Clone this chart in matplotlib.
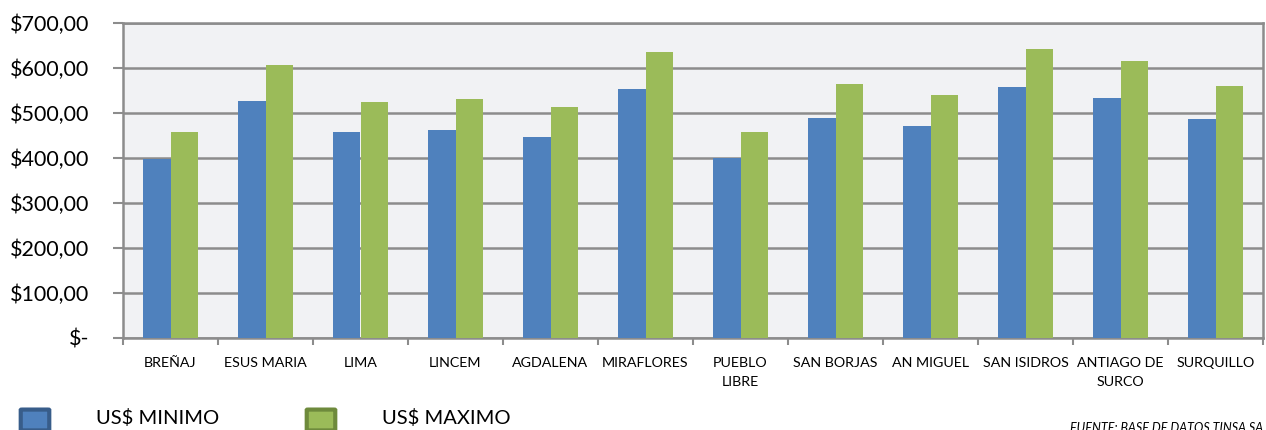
import matplotlib.pyplot as plt
from matplotlib.patches import FancyBboxPatch
import numpy as np

plt.rcParams['font.family'] = ['Lato', 'DejaVu Sans']

distritos = ['BREÑAJ', 'ESUS MARIA', 'LIMA', 'LINCEM', 'AGDALENA', 'MIRAFLORES',
             'PUEBLO\nLIBRE', 'SAN BORJAS', 'AN MIGUEL', 'SAN ISIDROS',
             'ANTIAGO DE\nSURCO', 'SURQUILLO']
minimo = [396, 526, 456, 461, 445, 552, 399, 489, 470, 556, 533, 486]
maximo = [456, 605, 524, 530, 513, 635, 458, 563, 540, 641, 614, 559]
yticks = [0, 100, 200, 300, 400, 500, 600, 700]
ylabels = ['$-', '$100,00', '$200,00', '$300,00', '$400,00', '$500,00', '$600,00', '$700,00']

blue = '#4F81BD'
green = '#9BBB59'
grid = '#8C8C8C'

fig = plt.figure(figsize=(12.66, 4.30), dpi=100)
ax = fig.add_axes([123 / 1266, 1 - 337.7 / 430, 1140 / 1266, 315 / 430])
ax.set_facecolor('#F1F2F4')

x = np.arange(len(distritos))
w = 0.285
ax.bar(x - w / 2, minimo, w, color=blue, zorder=3)
ax.bar(x + w / 2, maximo, w, color=green, zorder=3)

ax.set_xlim(-0.5, len(distritos) - 0.5)
ax.set_ylim(0, 700)
ax.set_yticks(yticks)
ax.set_yticklabels(ylabels, fontsize=15.5)
ax.yaxis.grid(True, color=grid, linewidth=1.8, zorder=1)
ax.tick_params(axis='y', length=7, width=1.5, color=grid, pad=17)

ax.set_xticks(x)
ax.set_xticklabels(distritos, fontsize=10.3, linespacing=1.7)
ax.set_xticks(np.arange(-0.5, len(distritos)), minor=True)
ax.tick_params(axis='x', which='major', length=0, pad=14)
ax.tick_params(axis='x', which='minor', length=5, width=1.5, color=grid)

for s in ax.spines.values():
    s.set_color(grid)
    s.set_linewidth(1.8)

# leyenda manual
for px, col, edge, label in [(22, blue, '#385D8A', 'US$ MINIMO'),
                             (308, green, '#6E8A3C', 'US$ MAXIMO')]:
    box = FancyBboxPatch((px / 1266, 1 - 430 / 430), 26 / 1266, 20 / 430,
                         boxstyle='round,pad=0.001', transform=fig.transFigure,
                         facecolor=col, edgecolor=edge, linewidth=3)
    fig.patches.append(box)
    fig.text((px + 74) / 1266, 1 - 418 / 430, label, fontsize=14.5, va='center')

fig.text(1070 / 1266, 1 - 428 / 430, 'FUENTE: BASE DE DATOS TINSA SA',
         fontsize=9, style='italic', va='center')

fig.savefig('out.png', dpi=100)
